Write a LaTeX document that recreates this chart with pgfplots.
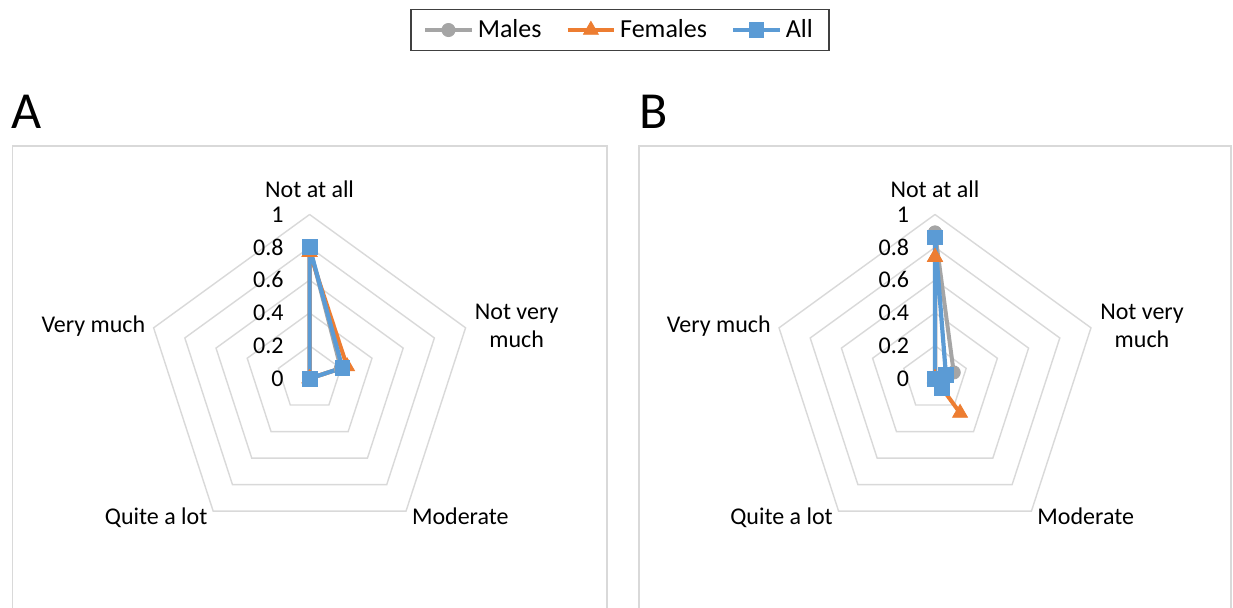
\documentclass[border=0pt]{standalone}
\usepackage{pgfplots}
\pgfplotsset{compat=1.18}
\usepackage{fontspec}
\setmainfont{Carlito}

\definecolor{males}{HTML}{A5A5A5}
\definecolor{females}{HTML}{ED7D31}
\definecolor{allc}{HTML}{5B9BD5}
\definecolor{gridc}{HTML}{D9D9D9}

\pgfplotsset{
  radar/.style={hide axis, clip=false, x=82pt, y=82pt,
    xmin=-1.5, xmax=1.5, ymin=-1.5, ymax=1.5, anchor=center},
}
\tikzset{
  catlab/.style={inner sep=0pt, font=\fontsize{12}{14}\selectfont},
  vallab/.style={inner sep=0pt, anchor=base east, font=\fontsize{12}{14}\selectfont},
}

% one radar panel: value and category labels, centred at #1
\newcommand{\radarlabels}[1]{%
  \foreach \v/\t in {0/0,0.2/0.2,0.4/0.4,0.6/0.6,0.8/0.8,1/1}
    \node[vallab] at ($(#1)+(-12.8pt,\v*82pt-3.85pt)$) {\t};
  \node[catlab, anchor=base] at ($(#1)+(0,90.35pt)$) {Not at all};
  \node[catlab, anchor=base] at ($(#1)+(103.5pt,29.75pt)$) {Not very};
  \node[catlab, anchor=base] at ($(#1)+(103.5pt,15.4pt)$) {much};
  \node[catlab, anchor=base west] at ($(#1)+(51pt,-72.9pt)$) {Moderate};
  \node[catlab, anchor=base east] at ($(#1)+(-50.9pt,-72.9pt)$) {Quite a lot};
  \node[catlab, anchor=base east] at ($(#1)+(-82pt,23pt)$) {Very much};
}
\usetikzlibrary{calc}

\begin{document}
\begin{tikzpicture}
\useasboundingbox (0,0) rectangle (616.5pt,303.5pt);
\fill[white] (0,0) rectangle (616.5pt,303.5pt);

% panel frames
\draw[gridc, line width=0.8pt] (6.3pt,-10pt) rectangle (303.5pt,230.65pt);
\draw[gridc, line width=0.8pt] (319.5pt,-10pt) rectangle (615.5pt,230.65pt);

\node[anchor=base west, inner sep=0pt, font=\fontsize{26}{30}\selectfont] at (5.5pt,239.1pt) {A};
\node[anchor=base west, inner sep=0pt, font=\fontsize{26}{30}\selectfont] at (319.5pt,239.1pt) {B};

\coordinate (cA) at (154.8pt,114.25pt);
\coordinate (cB) at (467.5pt,114.25pt);

% ---------- A ----------
\begin{axis}[radar, at={(cA)},
  legend columns=3,
  legend style={at={(1.1309,1.2083)}, anchor=center, draw=black!75, line width=0.8pt,
    font=\fontsize{13}{15}\selectfont, inner xsep=6pt, inner ysep=3pt,
    /tikz/every even column/.append style={column sep=10pt}},
  legend image code/.code={\draw[mark repeat=2,mark phase=2] plot coordinates {(0cm,0cm) (0.41cm,0cm) (0.82cm,0cm)};},
]
\pgfplotsinvokeforeach{0.2,0.4,0.6,0.8,1}{
  \addplot[gridc, line width=0.7pt, no marks, forget plot, data cs=polar]
    coordinates {(90,#1) (18,#1) (-54,#1) (-126,#1) (162,#1) (90,#1)};
}
\addplot[males, line width=2pt, mark=*, mark size=3.3pt, mark options={fill=males, line width=0.4pt}, data cs=polar]
  coordinates {(90,0.80) (18,0.20) (-54,0) (-126,0) (162,0) (90,0.80)};
\addplot[females, line width=2pt, mark=triangle*, mark size=4.3pt, mark options={fill=females, line width=0.4pt}, data cs=polar]
  coordinates {(90,0.77) (18,0.24) (-54,0) (-126,0) (162,0) (90,0.77)};
\addplot[allc, line width=2.1pt, mark=square*, mark size=3.7pt, mark options={fill=allc, line width=0.4pt}, data cs=polar]
  coordinates {(90,0.80) (18,0.21) (-54,0) (-126,0) (162,0) (90,0.80)};
\legend{Males,Females,All}
\end{axis}
\radarlabels{cA}

% ---------- B ----------
\begin{axis}[radar, at={(cB)}]
\pgfplotsinvokeforeach{0.2,0.4,0.6,0.8,1}{
  \addplot[gridc, line width=0.7pt, no marks, forget plot, data cs=polar]
    coordinates {(90,#1) (18,#1) (-54,#1) (-126,#1) (162,#1) (90,#1)};
}
\addplot[males, line width=2pt, mark=*, mark size=3.3pt, mark options={fill=males, line width=0.4pt}, data cs=polar]
  coordinates {(90,0.89) (18,0.12) (-54,0) (-126,0) (162,0) (90,0.89)};
\addplot[females, line width=2pt, mark=triangle*, mark size=4.3pt, mark options={fill=females, line width=0.4pt}, data cs=polar]
  coordinates {(90,0.74) (18,0) (-54,0.26) (-126,0) (162,0) (90,0.74)};
\addplot[allc, line width=2.1pt, mark=square*, mark size=3.7pt, mark options={fill=allc, line width=0.4pt}, data cs=polar]
  coordinates {(90,0.86) (18,0.07) (-54,0.07) (-126,0) (162,0) (90,0.86)};
\end{axis}
\radarlabels{cB}
\end{tikzpicture}
\end{document}
